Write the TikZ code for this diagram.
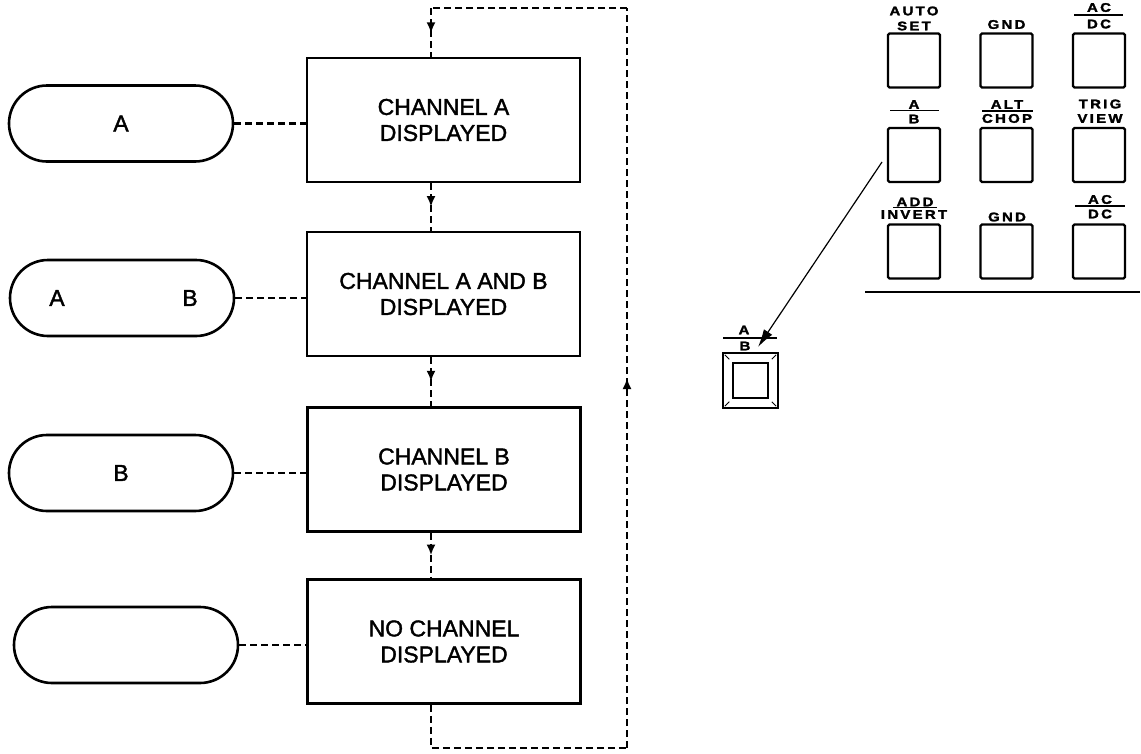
\documentclass[tikz,border=0pt]{standalone}
\usepackage{fontspec}
\setmainfont[FakeBold=1.6]{Liberation Sans}
\newfontfamily\panelfont[FakeStretch=1.2,LetterSpace=18,FakeBold=2]{Liberation Sans}
\usetikzlibrary{shapes.misc,arrows.meta,decorations.markings,calc}

\begin{document}
\begin{tikzpicture}[x=1pt,y=-1pt,
  stage/.style={draw,line width=2.6pt,minimum width=273pt,minimum height=124pt,
    align=center,font=\fontsize{23}{26}\selectfont,inner sep=0pt},
  pill/.style={draw,rounded rectangle,line width=2.6pt,minimum width=224pt,
    minimum height=76pt,inner sep=0pt},
  pilltext/.style={font=\fontsize{23}{26}\selectfont,inner sep=0pt},
  link/.style={line width=2.4pt,dash pattern=on 7pt off 4pt},
  midarrow/.style={postaction={decorate,decoration={markings,
    mark=at position #1 with {\arrow{Latex[length=11pt,width=9pt]}}}}},
  key/.style={draw,line width=2.4pt,rounded corners=1.5pt,minimum width=52pt,
    minimum height=54pt,inner sep=0pt},
  keylabel/.style={font=\panelfont\bfseries\fontsize{12.5}{14}\selectfont,inner sep=0pt},
  rule/.style={line width=1.8pt}
]
\useasboundingbox (0,0) rectangle (1141,753);

% ---- mode sequence ----
\node[stage] (b1) at (443.5,120)   {CHANNEL A\\DISPLAYED};
\node[stage] (b2) at (443.5,294)   {CHANNEL A AND B\\DISPLAYED};
\node[stage] (b3) at (444,469.5)   {CHANNEL B\\DISPLAYED};
\node[stage] (b4) at (444,641.5)   {NO CHANNEL\\DISPLAYED};

% ---- screen indicators ----
\node[pill] (p1) at (121,123.5) {};
\node[pill] (p2) at (122,298) {};
\node[pill] (p3) at (121,473) {};
\node[pill] (p4) at (126,645) {};
\node[pilltext] (p1a) at (p1) {A};
\node[pilltext] (p2a) at (57,298) {A};
\node[pilltext] (p2b) at (190,298) {B};
\node[pilltext] (p3b) at (p3) {B};

\foreach \i in {1,2,3,4}
  \draw[link] (p\i.east) -- (p\i.east -| b\i.west);

% ---- sequence connectors ----
\coordinate (spine) at (431,0);
\draw[link,midarrow=0.5] (b1.south -| spine) -- (b2.north -| spine);
\draw[link,midarrow=0.5] (b2.south -| spine) -- (b3.north -| spine);
\draw[link,midarrow=0.5] (b3.south -| spine) -- (b4.north -| spine);

% ---- return loop ----
\coordinate (lt) at (431,8);
\coordinate (rt) at (627,8);
\coordinate (rb) at (627,748);
\coordinate (lb) at (431,748);
\draw[link] (b4.south -| spine) -- (lb) -- (rb);
\draw[link,midarrow=0.5] (rb) -- (rt);
\draw[link] (rt) -- (lt);
\draw[link,midarrow=0.52] (lt) -- (b1.north -| spine);

% ---- front panel keys ----
\node[key] (k11) at (914,60.5)   {};
\node[key] (k12) at (1006.5,60.5){};
\node[key] (k13) at (1099,60.5)  {};
\node[key] (k21) at (914,155)    {};
\node[key] (k22) at (1006.5,155) {};
\node[key] (k23) at (1099,155)   {};
\node[key] (k31) at (914,251.5)  {};
\node[key] (k32) at (1006.5,251.5){};
\node[key] (k33) at (1099,251.5) {};

% row 1 labels
\node[keylabel] (t11a) at (914,11)    {AUTO};
\node[keylabel] (t11b) at (914,26)    {SET};
\node[keylabel] (t12)  at (1006.5,24.5){GND};
\node[keylabel] (t13a) at (1099,7.5)  {AC};
\draw[rule] (1074,15) -- (1123,15);
\node[keylabel] (t13b) at (1099,24)   {DC};
% row 2 labels
\node[keylabel] (t21a) at (914,104.5) {A};
\draw[rule] (890,110.5) -- (939,110.5);
\node[keylabel] (t21b) at (914,119)   {B};
\node[keylabel] (t22a) at (1007,104.5){ALT};
\draw[rule] (982,111) -- (1033,111);
\node[keylabel] (t22b) at (1007,118.5){CHOP};
\node[keylabel] (t23a) at (1100,104)  {TRIG};
\node[keylabel] (t23b) at (1100,118.5){VIEW};
% row 3 labels
\node[keylabel] (t31a) at (915,202)   {ADD};
\draw[rule] (893,207.5) -- (937,207.5);
\node[keylabel] (t31b) at (914,214.5) {INVERT};
\node[keylabel] (t32)  at (1007,217)  {GND};
\node[keylabel] (t33a) at (1100,199.5){AC};
\draw[rule] (1075,206) -- (1125,206);
\node[keylabel] (t33b) at (1100,214)  {DC};

\draw[rule] (865,292) -- (1140,292);

% ---- enlarged A/B key ----
\node[draw,line width=2.4pt,minimum width=55pt,minimum height=55pt,inner sep=0pt] (sk) at (750.5,380.5) {};
\node[draw,line width=1.5pt,minimum width=35pt,minimum height=35pt,inner sep=0pt] (ski) at (750.5,380.5) {};
\draw[line width=1pt] ($(sk.north west)+(3,3)$)  -- ($(ski.north west)+(-3,-3)$);
\draw[line width=1pt] ($(sk.north east)+(-3,3)$) -- ($(ski.north east)+(3,-3)$);
\draw[line width=1pt] ($(sk.south west)+(3,-3)$) -- ($(ski.south west)+(-3,3)$);
\draw[line width=1pt] ($(sk.south east)+(-3,-3)$)-- ($(ski.south east)+(3,3)$);
\node[keylabel] (ska) at (744,330) {A};
\draw[rule] (723,338) -- (777,338);
\node[keylabel] (skb) at (745,346) {B};

% ---- pointer from panel key to enlarged key ----
\coordinate (ptrstart) at (882,162);
\coordinate (ptrend) at (758,347);
\draw[line width=1.2pt,-{Latex[length=18pt,width=10pt]}] (ptrstart) -- (ptrend);
\end{tikzpicture}
\end{document}
